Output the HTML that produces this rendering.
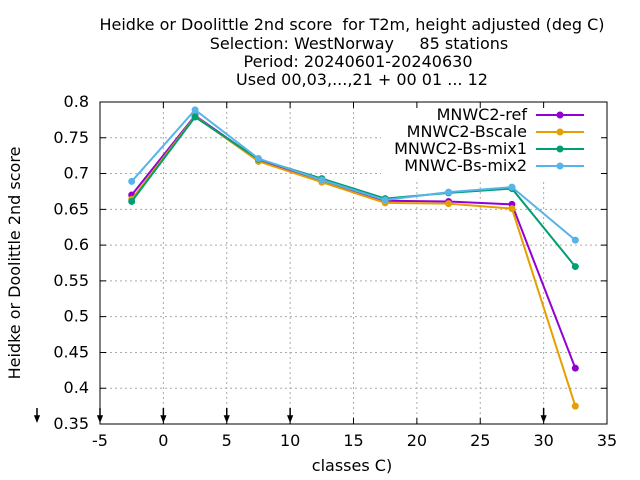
<!DOCTYPE html>
<html><head><meta charset="utf-8"><style>
body{margin:0;background:#fff}
svg{font-family:"DejaVu Sans","Liberation Sans",sans-serif;display:block}
svg text{white-space:pre}
</style></head><body>
<svg id="chart" width="640" height="480" xml:space="preserve">
<g font-size="16" text-anchor="middle" fill="#000">
<text x="352" y="30" xml:space="preserve">Heidke or Doolittle 2nd score  for T2m, height adjusted (deg C)</text>
<text x="359" y="49" xml:space="preserve">Selection: WestNorway     85 stations</text>
<text x="358" y="67" xml:space="preserve">Period: 20240601-20240630</text>
<text x="362" y="85" xml:space="preserve">Used 00,03,...,21 + 00 01 ... 12</text>
</g>
<g id="grid"></g>
<rect x="381" y="103" width="224" height="77" fill="#fff"/>
<g id="axes"></g>
<g id="series"></g>
<g id="legend"></g>
<text x="20" y="263" font-size="16" text-anchor="middle" transform="rotate(-90 20 263)">Heidke or Doolittle 2nd score</text>
<text x="352" y="471" font-size="16" text-anchor="middle">classes C)</text>
</svg>
<script>
const categories=[-2.5,2.5,7.5,12.5,17.5,22.5,27.5,32.5];
const seriesNames=["MNWC2-ref","MNWC2-Bscale","MNWC2-Bs-mix1","MNWC-Bs-mix2"];
const seriesColors=["#9400d3","#e69f00","#009e73","#56b4e9"];
const refValues=[0.670,0.781,0.719,0.690,0.662,0.661,0.657,0.428];
const bscaleValues=[0.664,0.780,0.717,0.688,0.659,0.658,0.651,0.375];
const mix1Values=[0.661,0.779,0.720,0.693,0.665,0.673,0.679,0.570];
const mix2Values=[0.689,0.789,0.721,0.691,0.663,0.674,0.681,0.607];
const xTicks=[-5,0,5,10,15,20,25,30,35];
const yTicks=[0.35,0.4,0.45,0.5,0.55,0.6,0.65,0.7,0.75,0.8];
const arrowXs=[-5,0,5,10,30];
const L=100,R=607,T=102,B=424;
const X=v=>L+(v+5)/40*(R-L);
const Y=v=>B-(v-0.35)/0.45*(B-T);
const NS="http://www.w3.org/2000/svg";
function mk(tag,attrs,parent){const e=document.createElementNS(NS,tag);for(const k in attrs)e.setAttribute(k,attrs[k]);parent.appendChild(e);return e;}
const grid=document.getElementById('grid'),axes=document.getElementById('axes');
xTicks.forEach(t=>{
 const x=X(t);
 if(t>-5&&t<35){const g=mk('line',{x1:x,x2:x,y1:T,y2:B,stroke:'#aaa','stroke-dasharray':'2,3','stroke-width':1},grid);
 
 }
 const tk=mk('path',{d:`M${x},${B}v-6M${x},${T}v6`,stroke:'#000'},axes);
 
 
 const lb=mk('text',{x:x,y:B+22,'font-size':16,'text-anchor':'middle'},axes);lb.textContent=t;
 
 
});
yTicks.forEach(t=>{
 const y=Y(t);
 if(t>0.35&&t<0.8){const g=mk('line',{x1:L,x2:R,y1:y,y2:y,stroke:'#aaa','stroke-dasharray':'2,3','stroke-width':1},grid);
 
 }
 const tk=mk('path',{d:`M${L},${y}h6M${R},${y}h-6`,stroke:'#000'},axes);
 
 
 const lb=mk('text',{x:L-11,y:y+5,'font-size':16,'text-anchor':'end'},axes);lb.textContent=t;
 
 
});
const fr=mk('rect',{x:L,y:T,width:R-L,height:B-T,fill:'none',stroke:'#000'},axes);


function arrow(x){const a=mk('path',{d:`M${x},${B-16}V${B-4}M${x-2},${B-8}L${x},${B-3}L${x+2},${B-8}Z`,stroke:'#000','stroke-width':1.5,fill:'#000'},axes);
 
 }
arrowXs.forEach(v=>arrow(X(v)));
arrow(37);
const all=[refValues,bscaleValues,mix1Values,mix2Values];
const sg=document.getElementById('series'),lg=document.getElementById('legend');
all.forEach((vals,i)=>{
 const c=seriesColors[i];
 const pl=mk('polyline',{points:vals.map((v,j)=>X(categories[j])+','+Y(v)).join(' '),fill:'none',stroke:c,'stroke-width':2},sg);
 
 
 vals.forEach((v,j)=>{const p=mk('circle',{cx:X(categories[j]),cy:Y(v),r:3.5,fill:c},sg);
  
  });
 const ly=115+i*17;
 const t=mk('text',{x:527,y:ly+5,'font-size':16,'text-anchor':'end'},lg);t.textContent=seriesNames[i];
 
 
 const ll=mk('line',{x1:536,x2:584,y1:ly,y2:ly,stroke:c,'stroke-width':2},lg);
 
 
 const lm=mk('circle',{cx:560,cy:ly,r:3.5,fill:c},lg);
 
 
});
</script>
</body></html>
